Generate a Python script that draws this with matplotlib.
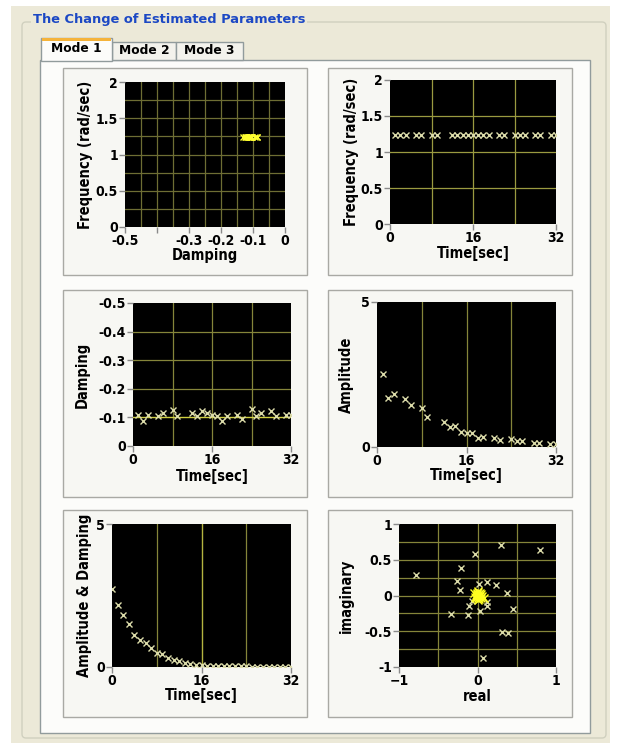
import matplotlib.pyplot as plt
from matplotlib.patches import Rectangle, FancyBboxPatch

plt.rcParams['font.family'] = ['DejaVu Sans']
plt.rcParams['font.stretch'] = 'condensed'
plt.rcParams['font.weight'] = 'bold'
plt.rcParams['axes.labelweight'] = 'bold'

# estimates taken at these times (sec)
times = [1, 2, 3, 5, 6, 8, 9, 12, 13, 14, 15, 16, 17, 18, 19, 21, 22, 24, 25, 26, 28, 29, 31, 32]
freq = [1.24, 1.24, 1.24, 1.24, 1.24, 1.24, 1.24, 1.24, 1.24, 1.24, 1.24, 1.24,
        1.24, 1.24, 1.24, 1.24, 1.24, 1.24, 1.24, 1.24, 1.24, 1.24, 1.24, 1.24]
damping = [-0.108, -0.088, -0.108, -0.105, -0.114, -0.126, -0.105, -0.117, -0.105, -0.122,
           -0.114, -0.108, -0.105, -0.088, -0.105, -0.108, -0.094, -0.130, -0.105, -0.117,
           -0.122, -0.105, -0.110, -0.110]
amplitude = [2.53, 1.68, 1.83, 1.66, 1.46, 1.35, 1.04, 0.85, 0.70, 0.73, 0.52, 0.48,
             0.50, 0.32, 0.35, 0.32, 0.24, 0.29, 0.21, 0.21, 0.15, 0.13, 0.09, 0.09]

# amplitude & damping curve, one value per second
ad_time = [0, 1, 2, 3, 4, 5, 6, 7, 8, 9, 10, 11, 12, 13, 14, 15, 16,
           17, 18, 19, 20, 21, 22, 23, 24, 25, 26, 27, 28, 29, 30, 31, 32]
ad_value = [2.73, 2.16, 1.82, 1.49, 1.11, 0.96, 0.85, 0.67, 0.49, 0.44, 0.32, 0.26,
            0.20, 0.14, 0.11, 0.08, 0.06, 0.05, 0.04, 0.04, 0.03, 0.03, 0.02, 0.02,
            0.02, 0.01, 0.01, 0.01, 0.01, 0.01, 0.01, 0.01, 0.01]

# poles in the complex plane
pole_re = [-0.786, -0.034, 0.297, 0.79, -0.21, -0.255, -0.225, 0.017, 0.115, 0.242, 0.37,
           0.454, 0.127, 0.115, 0.03, -0.11, -0.119, -0.34, 0.314, 0.39, 0.072, -0.07]
pole_im = [0.293, 0.58, 0.71, 0.63, 0.386, 0.209, 0.07, 0.163, 0.186, 0.144, 0.037,
           -0.186, -0.088, -0.149, -0.219, -0.149, -0.279, -0.256, -0.507, -0.521, -0.879, -0.07]
core_re = [0.0, 0.02, -0.02, 0.01, -0.01, 0.03, 0.0, 0.04, -0.03, 0.02, 0.05, 0.01,
           -0.02, 0.06, 0.03, 0.0, -0.04, 0.08, 0.02, -0.01]
core_im = [0.0, 0.02, 0.01, -0.03, 0.04, -0.01, 0.06, 0.02, -0.02, -0.05, -0.03, 0.05,
           -0.04, 0.0, 0.03, -0.06, 0.03, -0.04, -0.02, 0.02]

W, H = 617, 743
fig = plt.figure(figsize=(W / 100, H / 100), dpi=100)
fig.patch.set_facecolor('white')

# window chrome drawn in pixel coords
bg = fig.add_axes([0, 0, 1, 1])
bg.set_xlim(0, W)
bg.set_ylim(H, 0)
bg.axis('off')
bg.add_patch(Rectangle((11, 6), 599, 737, color='#ece9d8', lw=0))
bg.add_patch(FancyBboxPatch((22, 22), 584, 716, boxstyle='round,pad=0,rounding_size=4',
                            fc='none', ec='#d0d0bf', lw=1))
bg.text(33, 20, 'The Change of Estimated Parameters', family='DejaVu Sans', stretch='normal',
        weight='bold', fontsize=9.4, color='#1c48c4', va='center', ha='left',
        bbox=dict(fc='#ece9d8', ec='none', pad=1.5))
bg.add_patch(Rectangle((40, 60), 550, 673, fc='#fcfcfa', ec='#919b9c', lw=1))
tabs = [('Mode 2', 112, 176), ('Mode 3', 176, 243)]
for name, x0, x1 in tabs:
    bg.add_patch(Rectangle((x0, 42), x1 - x0, 18, fc='#f3f2ec', ec='#919b9c', lw=1))
    bg.text((x0 + x1) / 2, 51, name, family='DejaVu Sans', stretch='normal', weight='bold',
            fontsize=8.8, ha='center', va='center')
bg.add_patch(Rectangle((41, 38), 71, 23, fc='#fcfcfa', ec='#919b9c', lw=1))
bg.add_patch(Rectangle((42, 38), 69, 2.5, fc='#f5b33a', ec='none'))
bg.text(76, 49, 'Mode 1', family='DejaVu Sans', stretch='normal', weight='bold',
        fontsize=8.8, ha='center', va='center')

boxes = [(63, 68), (328, 68), (63, 290), (328, 290), (63, 510), (328, 510)]
for bx, by in boxes:
    bg.add_patch(Rectangle((bx, by), 244, 207, fc='#f7f7f3', ec='#a9a9a4', lw=1))


def make_ax(x0, y0, x1, y1):
    ax = fig.add_axes([x0 / W, 1 - y1 / H, (x1 - x0) / W, (y1 - y0) / H])
    ax.set_facecolor('black')
    for s in ax.spines.values():
        s.set_visible(False)
    ax.tick_params(colors='#8a8a8a', labelcolor='black', length=4, width=1,
                   labelsize=10, pad=1)
    ax.box = (x0, y0, x1, y1)
    return ax


def labels(ax, xlab, ylab, xgap, yright):
    # place axis titles at the pixel spots of the original screen
    x0, y0, x1, y1 = ax.box
    ax.set_xlabel(xlab, fontsize=10.5)
    ax.set_ylabel(ylab, fontsize=10.5)
    ax.xaxis.set_label_coords(0.5, -xgap / (y1 - y0))
    ax.yaxis.set_label_coords((yright - x0) / (x1 - x0), 0.5)


grid_col = '#85853a'
mk = dict(ls='none', marker='x', ms=5, mew=1, color='#dcdcaa')

# 1: frequency vs damping
ax1 = make_ax(125, 82, 285, 227)
for v in [-0.45, -0.4, -0.35, -0.3, -0.25, -0.2, -0.15, -0.1, -0.05]:
    ax1.axvline(v, color='#6e6e34', lw=0.9)
for v in [0.25, 0.5, 0.75, 1.0, 1.25, 1.5, 1.75]:
    ax1.axhline(v, color='#6e6e34', lw=0.9)
ax1.plot(damping, freq, **dict(mk, color='#ffff30'))
ax1.set_xlim(-0.5, 0)
ax1.set_ylim(0, 2)
ax1.set_xticks([-0.5, -0.4, -0.3, -0.2, -0.1, 0])
ax1.set_xticklabels(['-0.5', '', '-0.3', '-0.2', '-0.1', '0'])
ax1.set_yticks([0, 0.5, 1, 1.5, 2])
ax1.set_yticklabels(['0', '0.5', '1', '1.5', '2'])
labels(ax1, 'Damping', 'Frequency (rad/sec)', 21, 93)

# 2: frequency vs time
ax2 = make_ax(390, 80, 556, 224)
for v in [8, 16, 24]:
    ax2.axvline(v, color='#9a9a40', lw=0.9)
for v in [0.5, 1, 1.5]:
    ax2.axhline(v, color='#9a9a40', lw=0.9)
ax2.plot(times, freq, **mk)
ax2.set_xlim(0, 32)
ax2.set_ylim(0, 2)
ax2.set_xticks([0, 16, 32])
ax2.set_yticks([0, 0.5, 1, 1.5, 2])
ax2.set_yticklabels(['0', '0.5', '1', '1.5', '2'])
labels(ax2, 'Time[sec]', 'Frequency (rad/sec)', 22, 359)

# 3: damping vs time
ax3 = make_ax(133, 303, 291, 446)
for v in [8, 16, 24]:
    ax3.axvline(v, color=grid_col, lw=0.9)
for v in [-0.2, -0.3, -0.4]:
    ax3.axhline(v, color=grid_col, lw=0.9)
ax3.axhline(-0.1, color='#d0d040', lw=1)
ax3.plot(times, damping, **mk)
ax3.set_xlim(0, 32)
ax3.set_ylim(0, -0.5)
ax3.set_xticks([0, 16, 32])
ax3.set_yticks([0, -0.1, -0.2, -0.3, -0.4, -0.5])
ax3.set_yticklabels(['0', '-0.1', '-0.2', '-0.3', '-0.4', '-0.5'])
labels(ax3, 'Time[sec]', 'Damping', 23, 90)

# 4: amplitude vs time
ax4 = make_ax(377, 302, 556, 447)
for v in [8, 16, 24]:
    ax4.axvline(v, color=grid_col, lw=0.9)
ax4.plot(times, amplitude, **mk)
ax4.set_xlim(0, 32)
ax4.set_ylim(0, 5)
ax4.set_xticks([0, 16, 32])
ax4.set_yticks([0, 5])
labels(ax4, 'Time[sec]', 'Amplitude', 21, 354)

# 5: amplitude & damping vs time
ax5 = make_ax(112, 524, 291, 667)
for v in [8, 24]:
    ax5.axvline(v, color=grid_col, lw=0.9)
ax5.axvline(16, color='#b4b440', lw=1)
ax5.plot(ad_time, ad_value, **mk)
ax5.set_xlim(0, 32)
ax5.set_ylim(0, 5)
ax5.set_xticks([0, 16, 32])
ax5.set_yticks([0, 5])
labels(ax5, 'Time[sec]', 'Amplitude & Damping', 21, 92)

# 6: poles
ax6 = make_ax(399, 524, 556, 667)
for v in [-0.5, 0, 0.5]:
    ax6.axvline(v, color=grid_col, lw=0.9)
for v in [-0.75, -0.5, -0.25, 0, 0.25, 0.5, 0.75]:
    ax6.axhline(v, color=grid_col, lw=0.9)
ax6.plot(pole_re, pole_im, **mk)
ax6.plot(core_re, core_im, **dict(mk, color='#ffff20', ms=6))
ax6.set_xlim(-1, 1)
ax6.set_ylim(-1, 1)
ax6.set_xticks([-1, 0, 1])
ax6.set_yticks([-1, -0.5, 0, 0.5, 1])
ax6.set_yticklabels(['-1', '-0.5', '0', '0.5', '1'])
labels(ax6, 'real', 'imaginary', 22, 354)

fig.savefig('out.png', dpi=100)
